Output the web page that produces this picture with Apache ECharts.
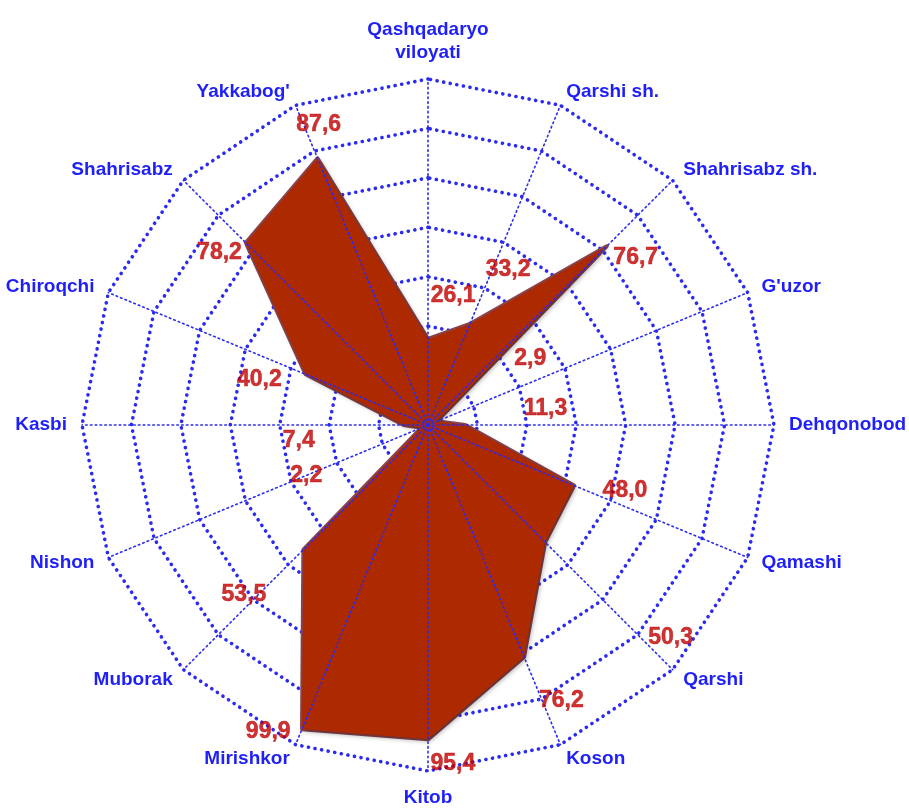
<!DOCTYPE html>
<html>
<head>
<meta charset="utf-8">
<script src="https://cdn.jsdelivr.net/npm/echarts@6/dist/echarts.min.js"></script>
<style>
  html, body { margin: 0; padding: 0; background: #ffffff; }
  #chart { width: 909px; height: 809px; }
</style>
</head>
<body>
<div id="chart"></div>
<script>
// Districts in clockwise order, starting from the top axis
const districts = [
  'Qashqadaryo\nviloyati', 'Qarshi sh.', 'Shahrisabz sh.', "G'uzor", 'Dehqonobod',
  'Qamashi', 'Qarshi', 'Koson', 'Kitob', 'Mirishkor', 'Muborak', 'Nishon',
  'Kasbi', 'Chiroqchi', 'Shahrisabz', "Yakkabog'"
];
// Value per district, same order
const shares = [26.1, 33.2, 76.7, 2.9, 11.3, 48.0, 50.3, 76.2, 95.4, 99.9, 53.5, 2.2, 7.4, 40.2, 78.2, 87.6];
const scaleMax = 105;
const ringCount = 7;

// Where each value label sits: [radius in value units, clockwise degrees from the top axis]
const labelSpots = [
  [40, 11], [53, 27.3], [81, 51.1], [37, 57], [36, 82], [63, 108.4], [98, 131.3], [93, 154.2],
  [103, 175.8], [105, 207.5], [76, 227.3], [40, 247.5], [39.5, 263], [53, 285], [82, 309.5], [97, 340]
];

const CENTER = [428, 425];
const RADIUS = 346;
const BLUE = '#2a2af2';

// ECharts lays radar indicators out counter-clockwise, so keep the first and reverse the rest
const order = [0].concat(districts.map((_, i) => i).slice(1).reverse());

const fmt = v => v.toFixed(1).replace('.', ',');

const radarBase = {
  center: CENTER,
  radius: RADIUS,
  startAngle: 90,
  shape: 'polygon',
  splitNumber: ringCount,
  indicator: order.map(i => ({ name: districts[i], min: 0, max: scaleMax }))
};

const chart = echarts.init(document.getElementById('chart'), null, { renderer: 'canvas' });
chart.setOption({
  backgroundColor: '#ffffff',
  animation: false,
  radar: [
    Object.assign({}, radarBase, {
      z: 1,
      nameGap: 15,
      axisName: {
        color: '#1f1ffa',
        fontFamily: 'Liberation Sans, Arial, sans-serif',
        fontWeight: 'bold',
        fontSize: 19,
        lineHeight: 23
      },
      splitLine: { lineStyle: { color: BLUE, width: 3.6, type: [0.1, 6.6], cap: 'round' } },
      splitArea: { show: false },
      axisLine: { show: false },
      axisTick: { show: false },
      axisLabel: { show: false }
    }),
    Object.assign({}, radarBase, {
      z: 4,
      axisName: { show: false },
      splitLine: { show: false },
      splitArea: { show: false },
      axisLine: { lineStyle: { color: BLUE, width: 1.6, type: [1.6, 3.2] } },
      axisTick: { show: false },
      axisLabel: { show: false }
    })
  ],
  polar: { center: CENTER, radius: RADIUS },
  angleAxis: { type: 'value', min: 0, max: 360, startAngle: 90, clockwise: true, show: false },
  radiusAxis: { type: 'value', min: 0, max: scaleMax, show: false },
  series: [
    {
      type: 'radar',
      radarIndex: 0,
      z: 2,
      symbol: 'none',
      lineStyle: { color: '#8c4650', width: 4, opacity: 1 },
      areaStyle: {
        color: '#ad2900',
        opacity: 1,
        shadowBlur: 5,
        shadowColor: 'rgba(0,0,0,0.35)',
        shadowOffsetX: 2,
        shadowOffsetY: 2
      },
      data: [{ value: order.map(i => shares[i]) }]
    },
    {
      type: 'scatter',
      coordinateSystem: 'polar',
      z: 6,
      symbolSize: 1,
      itemStyle: { color: 'rgba(0,0,0,0)' },
      label: {
        show: true,
        position: 'inside',
        color: '#c00000',
        textBorderColor: '#c00000',
        textBorderWidth: 0.5,
        fontFamily: 'Liberation Sans, Arial, sans-serif',
        fontWeight: 'bold',
        fontSize: 23,
        formatter: p => fmt(p.value[2])
      },
      data: labelSpots.map((s, i) => [s[0], s[1], shares[i]])
    }
  ]
});
</script>
</body>
</html>
